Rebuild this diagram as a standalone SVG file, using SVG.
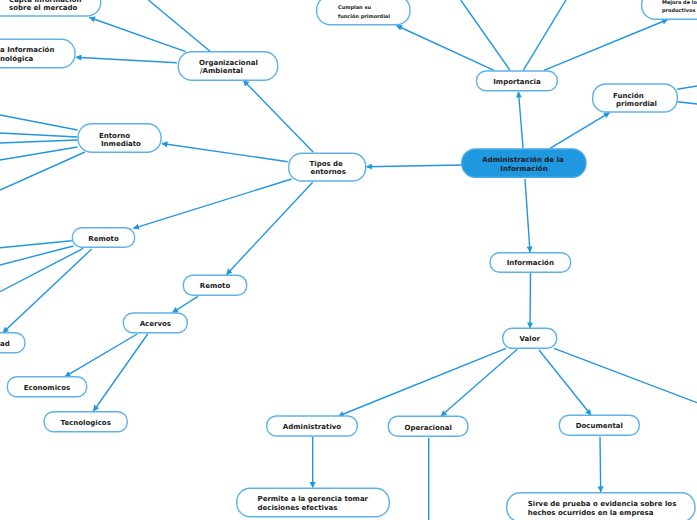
<svg xmlns="http://www.w3.org/2000/svg" width="697" height="520" viewBox="0 0 697 520">
<defs>
<marker id="ah" viewBox="0 0 10 10" refX="9" refY="5" markerWidth="7" markerHeight="6" orient="auto" markerUnits="userSpaceOnUse"><path d="M0,0 L10,5 L0,10 z" fill="#2196e0"/></marker>
<style>
.n{fill:#fff;stroke:#5eb2ea;stroke-width:1.4}
.c{fill:#1f98e0;stroke:#47a9e8;stroke-width:1.4}
.t{font-family:"DejaVu Sans",Verdana,sans-serif;font-weight:bold;font-size:7px;fill:#1a1a1a}
.s{font-family:"DejaVu Sans",Verdana,sans-serif;font-weight:bold;font-size:5px;fill:#1a1a1a}
.m{text-anchor:middle}
.l{fill:none;stroke:#2196e0;stroke-width:1.4}
.a{marker-end:url(#ah)}
</style>
</defs>
<rect width="697" height="520" fill="#fff"/>
<g id="connectors">
<line class="l a" x1="523" y1="148" x2="518.5" y2="92"/>
<line class="l a" x1="550" y1="148.3" x2="609.5" y2="112.7"/>
<line class="l a" x1="461.7" y1="165" x2="366.5" y2="166.7"/>
<line class="l a" x1="525" y1="179" x2="530" y2="252"/>
<line class="l a" x1="530.5" y1="272.5" x2="530" y2="328"/>
<line class="l a" x1="494" y1="70.3" x2="396.5" y2="25.5"/>
<line class="l" x1="510" y1="70.3" x2="460.7" y2="0"/>
<line class="l" x1="523.3" y1="70.3" x2="566" y2="0"/>
<line class="l a" x1="544" y1="70.3" x2="667.7" y2="19.5"/>
<line class="l" x1="677.3" y1="89.3" x2="697" y2="86"/>
<line class="l" x1="677.3" y1="101.7" x2="697" y2="104"/>
<line class="l a" x1="313.3" y1="152.3" x2="243.5" y2="80.5"/>
<line class="l a" x1="185.7" y1="51.7" x2="89.5" y2="17.5"/>
<line class="l a" x1="176.7" y1="62.7" x2="76" y2="57.3"/>
<line class="l" x1="210" y1="51.3" x2="148.3" y2="0"/>
<line class="l a" x1="287.7" y1="161.7" x2="162" y2="143.5"/>
<line class="l a" x1="291.7" y1="179" x2="133.5" y2="228.3"/>
<line class="l a" x1="312.7" y1="182.3" x2="226.5" y2="274.5"/>
<line class="l a" x1="198" y1="296.3" x2="172.5" y2="312.5"/>
<line class="l a" x1="137.3" y1="334" x2="65" y2="376.7"/>
<line class="l a" x1="147.7" y1="334" x2="93.5" y2="411"/>
<line class="l" x1="71.7" y1="240.7" x2="0" y2="247.7"/>
<line class="l" x1="73.3" y1="246" x2="0" y2="265"/>
<line class="l" x1="83.3" y1="248.3" x2="0" y2="291.7"/>
<line class="l a" x1="91.7" y1="249" x2="3" y2="332.5"/>
<line class="l" x1="77.5" y1="130" x2="0" y2="115"/>
<line class="l" x1="77.5" y1="137" x2="0" y2="133"/>
<line class="l" x1="77.5" y1="140" x2="0" y2="143"/>
<line class="l" x1="77.5" y1="147" x2="0" y2="160"/>
<line class="l" x1="85" y1="152" x2="0" y2="190"/>
<line class="l a" x1="506" y1="348.3" x2="338.5" y2="416"/>
<line class="l a" x1="517.3" y1="349.3" x2="441" y2="416"/>
<line class="l a" x1="539" y1="350" x2="591" y2="415"/>
<line class="l" x1="554" y1="348.3" x2="697" y2="402.7"/>
<line class="l a" x1="312.7" y1="436.7" x2="312.7" y2="487.5"/>
<line class="l" x1="428.7" y1="438" x2="428.7" y2="520"/>
<line class="l a" x1="600" y1="436.7" x2="600.7" y2="491.8"/>
</g>
<g id="central">
<rect class="c" x="461.7" y="149" width="124.3" height="28.3" rx="14"/>
<text class="t m" x="523" y="162">Administración de la</text>
<text class="t m" x="524" y="170.5">Información</text>
</g>
<g id="importancia">
<rect class="n" x="476.5" y="71" width="80.8" height="19.7" rx="9.5"/>
<text class="t m" x="517" y="84">Importancia</text>
</g>
<g id="funcion">
<rect class="n" x="592.7" y="84" width="84.6" height="28" rx="13"/>
<text class="t" x="613" y="97.5">Función</text>
<text class="t" x="616" y="105.5">primordial</text>
</g>
<g id="cumplan">
<rect class="n" x="316.7" y="-4" width="93.3" height="28.7" rx="13.5"/>
<text class="s" x="338" y="8.5">Cumplan su</text>
<text class="s" x="338" y="17.5">función primordial</text>
</g>
<g id="mejora">
<rect class="n" x="641.7" y="-9" width="70" height="28.3" rx="13.5"/>
<text class="s" x="662" y="4">Mejora de lo</text>
<text class="s" x="662" y="12">productivos</text>
</g>
<g id="tipos">
<rect class="n" x="288.7" y="153.3" width="77" height="27.7" rx="13"/>
<text class="t" x="309.5" y="166">Tipos de</text>
<text class="t" x="310.5" y="174">entornos</text>
</g>
<g id="organizacional">
<rect class="n" x="178.3" y="51.7" width="99.4" height="28.6" rx="13.5"/>
<text class="t" x="199" y="65.3">Organizacional</text>
<text class="t" x="200" y="73.3">/Ambiental</text>
</g>
<g id="capta">
<rect class="n" x="-12" y="-12" width="112.7" height="28" rx="13.5"/>
<text class="t" x="9" y="1.5">Capta información</text>
<text class="t" x="9" y="10">sobre el mercado</text>
</g>
<g id="tecnologica">
<rect class="n" x="-30" y="39.3" width="105" height="28.4" rx="13.5"/>
<text class="t" x="0" y="52">a Información</text>
<text class="t" x="0" y="61">nológica</text>
</g>
<g id="entorno">
<rect class="n" x="78" y="123.7" width="83" height="28.6" rx="13.5"/>
<text class="t" x="99" y="137.5">Entorno</text>
<text class="t" x="101" y="145.5">Inmediato</text>
</g>
<g id="remoto1">
<rect class="n" x="72.3" y="227.7" width="62.4" height="19.6" rx="9.5"/>
<text class="t m" x="103.5" y="241">Remoto</text>
</g>
<g id="ad">
<rect class="n" x="-40" y="332.7" width="65" height="20" rx="9.5"/>
<text class="t" x="0" y="346">ad</text>
</g>
<g id="remoto2">
<rect class="n" x="183.3" y="275.3" width="63.4" height="20" rx="9.5"/>
<text class="t m" x="215" y="288.3">Remoto</text>
</g>
<g id="acervos">
<rect class="n" x="123.3" y="313" width="64" height="19.7" rx="9.5"/>
<text class="t m" x="155.3" y="326">Acervos</text>
</g>
<g id="economicos">
<rect class="n" x="7.3" y="376.7" width="79.4" height="20" rx="9.5"/>
<text class="t m" x="47" y="390">Economicos</text>
</g>
<g id="tecnologicos">
<rect class="n" x="44" y="411.7" width="83.3" height="20" rx="9.5"/>
<text class="t m" x="85.7" y="425">Tecnologicos</text>
</g>
<g id="informacion">
<rect class="n" x="490" y="252.7" width="80.7" height="19.6" rx="9.5"/>
<text class="t m" x="530.3" y="265.3">Información</text>
</g>
<g id="valor">
<rect class="n" x="502.7" y="328.3" width="54" height="20" rx="9.5"/>
<text class="t m" x="529.7" y="341.3">Valor</text>
</g>
<g id="administrativo">
<rect class="n" x="266.7" y="416" width="90.6" height="20" rx="9.5"/>
<text class="t m" x="312" y="429.3">Administrativo</text>
</g>
<g id="operacional">
<rect class="n" x="388.3" y="416.3" width="79.7" height="20" rx="9.5"/>
<text class="t m" x="428.2" y="429.6">Operacional</text>
</g>
<g id="documental">
<rect class="n" x="559.3" y="415.3" width="80" height="20" rx="9.5"/>
<text class="t m" x="599.3" y="428.3">Documental</text>
</g>
<g id="permite">
<rect class="n" x="236.7" y="488.3" width="152.6" height="28.4" rx="13.5"/>
<text class="t" x="257.5" y="501">Permite a la gerencia tomar</text>
<text class="t" x="257.5" y="510">decisiones efectivas</text>
</g>
<g id="sirve">
<rect class="n" x="506.7" y="492.7" width="188.3" height="29" rx="13.5"/>
<text class="t" x="527.7" y="505.5">Sirve de prueba o evidencia sobre los</text>
<text class="t" x="527.7" y="514.5">hechos ocurridos en la empresa</text>
</g>
</svg>
